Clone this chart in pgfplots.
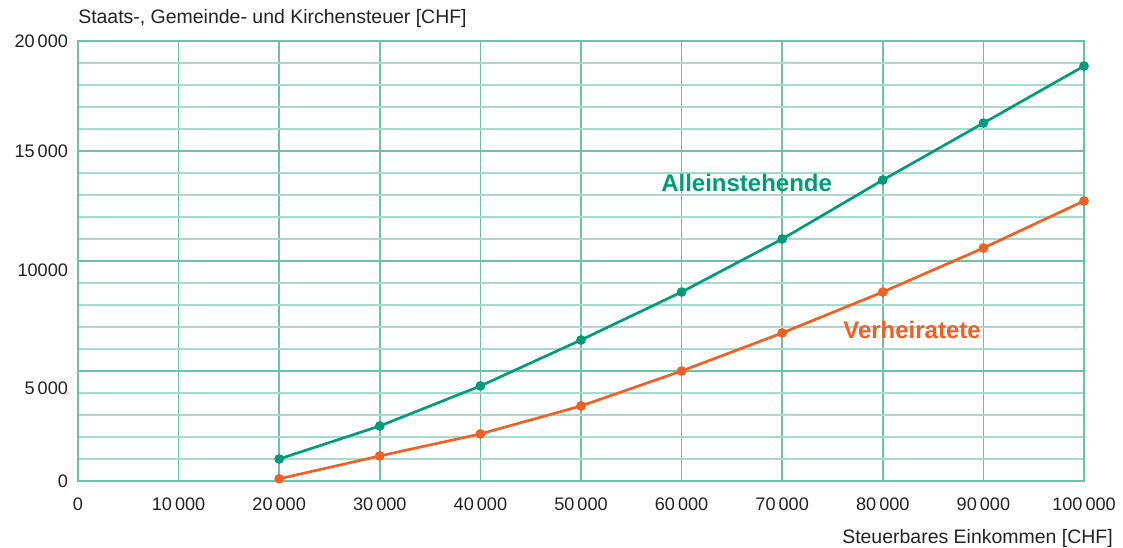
\documentclass[border=0pt]{standalone}
\usepackage{fontspec}
\setmainfont{Liberation Sans}
\usepackage{pgfplots}
\pgfplotsset{compat=1.18}
\definecolor{gridmaj}{RGB}{112,192,170}
\definecolor{gridmin}{RGB}{170,218,204}
\definecolor{tealline}{RGB}{0,155,120}
\definecolor{orangeline}{RGB}{240,95,35}
\definecolor{txt}{RGB}{35,35,35}

\begin{document}
\begin{tikzpicture}
\begin{axis}[
    scale only axis,
    width=754.5pt,
    height=330pt,
    xmin=0, xmax=100000,
    ymin=0, ymax=20000,
    scaled ticks=false,
    xtick={0,10000,...,100000},
    xticklabels={0,10\,000,20\,000,30\,000,40\,000,50\,000,60\,000,70\,000,80\,000,90\,000,100\,000},
    ytick={0,5000,10000,15000,20000},
    yticklabels={0,,,15\,000,20\,000},
    minor ytick={1000,2000,...,19000},
    grid=both,
    major grid style={gridmaj, line width=1.2pt},
    minor grid style={gridmin, line width=0.8pt},
    axis line style={gridmaj, line width=1.2pt},
    major tick length=0pt,
    minor tick length=0pt,
    tick label style={font=\fontsize{13.6}{16}\selectfont, text=txt},
    xticklabel style={yshift=-9pt},
    yticklabel style={xshift=-4pt},
    clip=false,
]
\addplot[tealline, line width=2pt, mark=*, mark size=2.6pt] coordinates {
    (20000,1000) (30000,2500) (40000,4320) (50000,6410) (60000,8590)
    (70000,11000) (80000,13680) (90000,16270) (100000,18860)
};
\addplot[orangeline, line width=2pt, mark=*, mark size=2.6pt] coordinates {
    (20000,100) (30000,1140) (40000,2140) (50000,3410) (60000,5000)
    (70000,6730) (80000,8590) (90000,10590) (100000,12730)
};
% the source sets these two labels a little below their grid lines
\node[anchor=east, xshift=-4pt, text=txt, font=\fontsize{13.6}{16}\selectfont]
    at (axis cs:0,4230) {5\,000};
\node[anchor=east, xshift=-4pt, text=txt, font=\fontsize{13.6}{16}\selectfont]
    at (axis cs:0,9590) {10000};
\node[anchor=west, text=tealline, font=\fontsize{18}{20}\selectfont\bfseries, inner sep=0pt]
    at (axis cs:57950,13550) {Alleinstehende};
\node[anchor=west, text=orangeline, font=\fontsize{18}{20}\selectfont\bfseries, inner sep=0pt]
    at (axis cs:76050,6860) {Verheiratete};
\node[anchor=base west, text=txt, font=\fontsize{14.6}{17}\selectfont, inner sep=0pt]
    at ([yshift=12.75pt]rel axis cs:0,1) {Staats-, Gemeinde- und Kirchensteuer [CHF]};
\node[anchor=base east, text=txt, font=\fontsize{14.6}{17}\selectfont, inner sep=0pt]
    at ([xshift=21.75pt, yshift=-47.25pt]rel axis cs:1,0) {Steuerbares Einkommen [CHF]};
\coordinate (O) at (rel axis cs:0,0);
\end{axis}
\pgfresetboundingbox
\useasboundingbox ([xshift=-58.5pt, yshift=-50.25pt]O) rectangle ++(842.25pt,411pt);
\end{tikzpicture}
\end{document}
